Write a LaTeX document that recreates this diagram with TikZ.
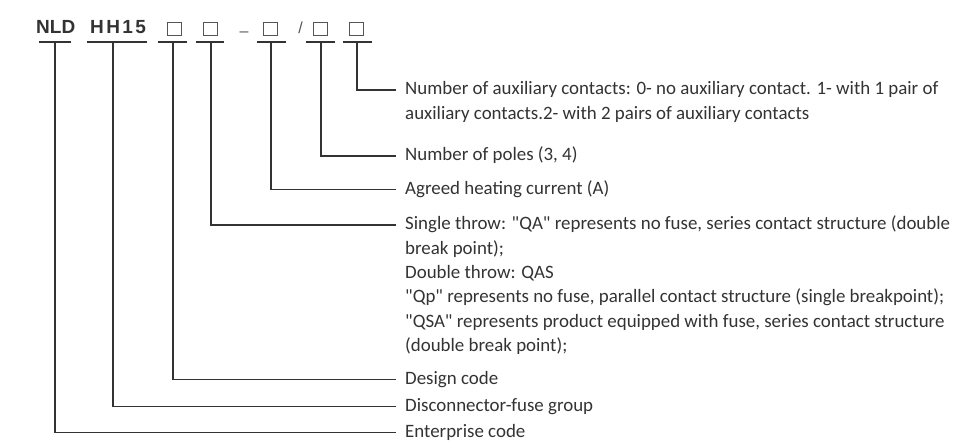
\documentclass[tikz,border=0pt]{standalone}
\usepackage{fontspec}
\setmainfont{Carlito}
\newfontfamily\titlefont{Liberation Sans}
\definecolor{ink}{HTML}{333333}
\definecolor{boxink}{HTML}{555555}
\newcommand{\qq}{\textquotedbl}
\begin{document}
\begin{tikzpicture}[x=1pt,y=-1pt,
  lbl/.style={anchor=west, inner xsep=9pt, inner ysep=0pt, text=ink,
    font=\fontsize{18.9}{24}\selectfont},
  codetxt/.style={anchor=base west, inner sep=0pt, text=ink,
    font=\titlefont\bfseries\fontsize{19}{19}\selectfont},
  sep/.style={anchor=base, inner sep=0pt, text=boxink,
    font=\titlefont\fontsize{16}{16}\selectfont},
  bx/.style={draw=boxink, line width=1pt, minimum width=14pt, minimum height=13pt, inner sep=0pt},
  uline/.style={draw=ink, line width=1.5pt},
  leader/.style={draw=ink, line width=1.5pt}]
\useasboundingbox[fill=white] (0,0) rectangle (954,441);

% code elements
\node[codetxt] (c1) at (36,34) {NLD};
\node[codetxt] (c2) at (90,34) {H\kern2.4pt H\kern2.4pt 1\kern2.4pt 5};
\node[bx] (c3) at (174,29) {};
\node[bx] (c4) at (210.5,29) {};
\node[sep] (dash) at (244,37) {\textendash};
\node[bx] (c5) at (270.5,29) {};
\node[sep] (slash) at (300.5,34) {/};
\node[bx] (c6) at (320,29) {};
\node[bx] (c7) at (356,29) {};

% underlines and their leader origins
\coordinate (u1) at (55,42);
\coordinate (u2) at (113,42);
\coordinate (u3) at (173,42);
\coordinate (u4) at (211,42);
\coordinate (u5) at (271,42);
\coordinate (u6) at (321,42);
\coordinate (u7) at (357,42);
\draw[uline] (39,42) -- (71,42);
\draw[uline] (87,42) -- (147,42);
\draw[uline] (158,42) -- (187,42);
\draw[uline] (196,42) -- (224,42);
\draw[uline] (257,42) -- (286,42);
\draw[uline] (306,42) -- (335,42);
\draw[uline] (343,42) -- (372,42);

% descriptions
\node[lbl] (d7) at (396,90) {\strut Number of auxiliary contacts: 0- no auxiliary contact. 1- with 1 pair of};
\node[lbl] (d7b) at (396,114.3) {\strut auxiliary contacts.2- with 2 pairs of auxiliary contacts};
\node[lbl] (d6) at (396,156) {\strut Number of poles (3, 4)};
\node[lbl] (d5) at (396,189.5) {\strut Agreed heating current (A)};
\node[lbl] (d4) at (396,225) {\strut Single throw: \qq QA\qq\ represents no fuse, series contact structure (double};
\node[lbl] (d4b) at (396,249.3) {\strut break point);};
\node[lbl] (d4c) at (396,273.6) {\strut Double throw: QAS};
\node[lbl] (d4d) at (396,297.9) {\strut \qq Qp\qq\ represents no fuse, parallel contact structure (single breakpoint);};
\node[lbl] (d4e) at (396,322.2) {\strut \qq QSA\qq\ represents product equipped with fuse, series contact structure};
\node[lbl] (d4f) at (396,346.5) {\strut (double break point);};
\node[lbl] (d3) at (396,379.5) {\strut Design code};
\node[lbl] (d2) at (396,406.5) {\strut Disconnector-fuse group};
\node[lbl] (d1) at (396,432.5) {\strut Enterprise code};

% leaders
\draw[leader] (u7) |- (d7.west);
\draw[leader] (u6) |- (d6.west);
\draw[leader] (u5) |- (d5.west);
\draw[leader] (u4) |- (d4.west);
\draw[leader] (u3) |- (d3.west);
\draw[leader] (u2) |- (d2.west);
\draw[leader] (u1) |- (d1.west);
\end{tikzpicture}
\end{document}
